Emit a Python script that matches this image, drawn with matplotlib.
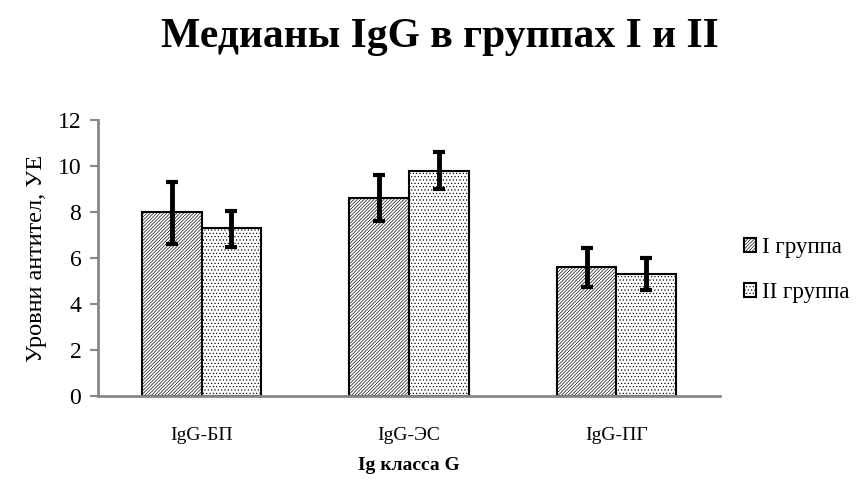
import numpy as np
import matplotlib.pyplot as plt

plt.rcParams['font.family'] = ['Liberation Serif', 'DejaVu Serif']
plt.rcParams['hatch.linewidth'] = 0.45

categories = ['IgG-БП', 'IgG-ЭС', 'IgG-ПГ']
group1 = [8.0, 8.6, 5.6]
group2 = [7.3, 9.8, 5.3]
g1_err_low = [1.4, 1.0, 0.85]
g1_err_high = [1.3, 1.0, 0.85]
g2_err_low = [0.8, 0.8, 0.7]
g2_err_high = [0.75, 0.8, 0.7]

fig = plt.figure(figsize=(8.59, 4.86), dpi=100)
ax = fig.add_axes([98/859, 1-396/486, (720-98)/859, (396-120)/486])

x = np.arange(len(categories))
w = 0.287
b1 = ax.bar(x - w/2, group1, w, color='white', edgecolor='black', linewidth=1.5,
            hatch='//////////', label='I группа')
b2 = ax.bar(x + w/2, group2, w, color='white', edgecolor='black', linewidth=1.5,
            hatch='.....', label='II группа')
ax.errorbar(x - w/2, group1, yerr=[g1_err_low, g1_err_high], fmt='none',
            ecolor='black', elinewidth=3.5, capsize=4, capthick=3)
ax.errorbar(x + w/2, group2, yerr=[g2_err_low, g2_err_high], fmt='none',
            ecolor='black', elinewidth=3.5, capsize=4, capthick=3)

ax.set_xlim(-0.5, 2.5)
ax.set_ylim(0, 12)
ax.set_yticks(range(0, 13, 2))
ax.set_xticks(x)
ax.set_xticklabels(categories, fontsize=14)
ax.tick_params(axis='x', length=0, pad=22)
ax.tick_params(axis='y', length=6, width=1.5, color='#888888', labelsize=17, pad=6)
for s in ['top', 'right']:
    ax.spines[s].set_visible(False)
for s in ['left', 'bottom']:
    ax.spines[s].set_color('#888888')
    ax.spines[s].set_linewidth(2)

ax.set_ylabel('Уровни антител, УЕ', fontsize=17.5, labelpad=8)
ax.set_xlabel('Ig класса G', fontsize=14, fontweight='bold', labelpad=10)
fig.text(0.512, 0.924, 'Медианы IgG в группах I и II', fontsize=30, fontweight='bold',
         ha='center', va='center')

ax.legend(loc='center left', bbox_to_anchor=(1.005, 0.457), frameon=False, fontsize=16.5,
          handlelength=0.55, handleheight=0.55, handletextpad=0.25, labelspacing=1.05)

fig.savefig('out.png', dpi=100)
